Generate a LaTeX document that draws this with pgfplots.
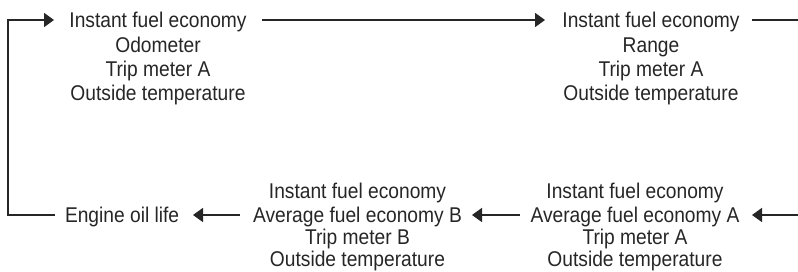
\documentclass[border=0pt]{standalone}
\usepackage{fontspec}
\setmainfont{Liberation Sans}[FakeStretch=0.9]
\usepackage{pgfplots}
\pgfplotsset{compat=1.18}
\usetikzlibrary{arrows.meta}
\tikzset{
  lbl/.style={font=\fontsize{16}{18}\selectfont, text=black!85, inner sep=0pt, outer sep=0pt, anchor=base},
  tip/.style={line width=1.3pt, black!85, line join=miter, -{Triangle[length=7.5pt,width=10.5pt]}},
}
\begin{document}
\begin{tikzpicture}
\begin{axis}[
  scale only axis, width=598.5pt, height=203.25pt,
  xmin=0, xmax=798, ymin=0, ymax=271, y dir=reverse,
  hide axis, clip=false, anchor=south west, at={(0pt,0pt)},
]
% connectors
\addplot[tip] coordinates {(55,215) (8,215) (8,20) (54,20)};
\addplot[tip] coordinates {(262,20) (545,20)};
\addplot[line width=1.3pt, black!85] coordinates {(752,20) (798,20)};
\addplot[tip] coordinates {(798,215) (752,215)};
\addplot[tip] coordinates {(520,215) (472,215)};
\addplot[tip] coordinates {(240,215) (193,215)};
% block 1
\node[lbl] at (axis cs:158,27.7) {Instant fuel economy};
\node[lbl] at (axis cs:158,52.2) {Odometer};
\node[lbl] at (axis cs:158,76.5) {Trip meter A};
\node[lbl] at (axis cs:158,100.5) {Outside temperature};
% block 2
\node[lbl] at (axis cs:651,27.7) {Instant fuel economy};
\node[lbl] at (axis cs:651,52.2) {Range};
\node[lbl] at (axis cs:651,76.5) {Trip meter A};
\node[lbl] at (axis cs:651,100.5) {Outside temperature};
% block 4
\node[lbl] at (axis cs:635,198.5) {Instant fuel economy};
\node[lbl] at (axis cs:635,222) {Average fuel economy A};
\node[lbl] at (axis cs:635,244.5) {Trip meter A};
\node[lbl] at (axis cs:635,266) {Outside temperature};
% block 3
\node[lbl] at (axis cs:357.5,198.5) {Instant fuel economy};
\node[lbl] at (axis cs:357.5,222) {Average fuel economy B};
\node[lbl] at (axis cs:357.5,244.5) {Trip meter B};
\node[lbl] at (axis cs:357.5,266) {Outside temperature};
% engine oil life
\node[lbl, anchor=base west] at (axis cs:65,222) {Engine oil life};
\end{axis}
\pgfresetboundingbox
\path (0pt,0pt) rectangle (598.5pt,203.25pt);
\end{tikzpicture}
\end{document}
